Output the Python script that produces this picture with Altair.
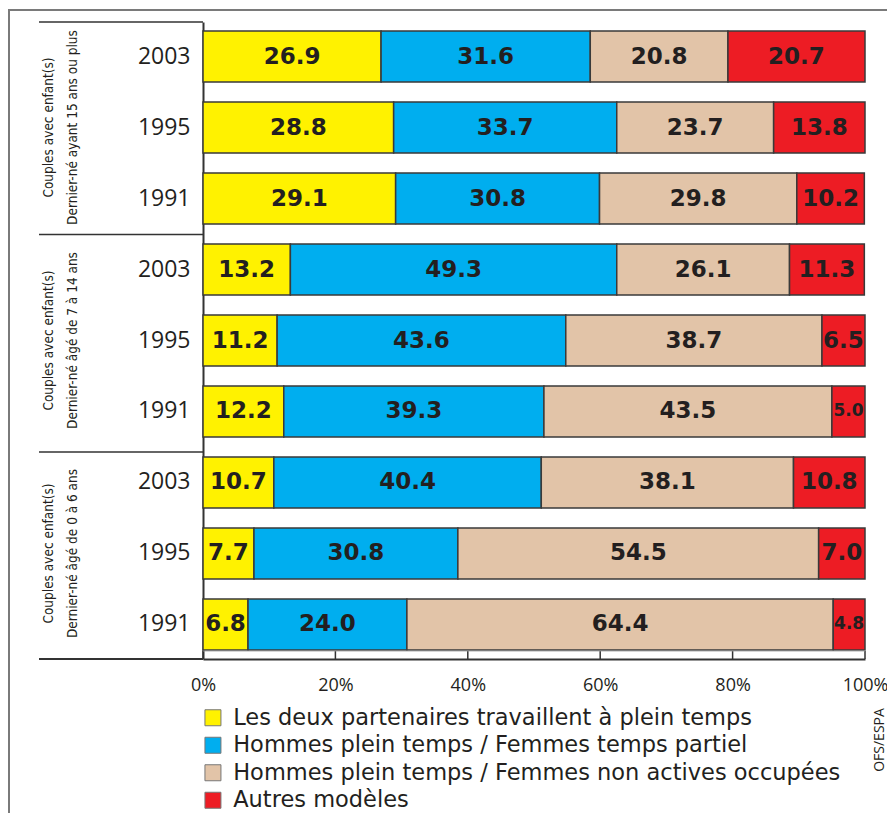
import altair as alt
import pandas as pd

# ---------------- data ----------------
categories = [
    "Les  deux partenaires travaillent à plein temps",
    "Hommes plein temps / Femmes temps partiel",
    "Hommes plein temps / Femmes non actives occupées",
    "Autres modèles",
]
colors = ["#FFF200", "#00AEEF", "#E2C4A8", "#ED1C24"]
groups = [
    "Couples avec enfant(s)\nDernier-né ayant 15 ans ou plus",
    "Couples avec enfant(s)\nDernier-né âgé de 7 à 14 ans",
    "Couples avec enfant(s)\nDernier-né âgé de 0 à 6 ans",
]
years = ["2003", "1995", "1991"]
values_15plus = [[26.9, 31.6, 20.8, 20.7], [28.8, 33.7, 23.7, 13.8], [29.1, 30.8, 29.8, 10.2]]
values_7_14 = [[13.2, 49.3, 26.1, 11.3], [11.2, 43.6, 38.7, 6.5], [12.2, 39.3, 43.5, 5.0]]
values_0_6 = [[10.7, 40.4, 38.1, 10.8], [7.7, 30.8, 54.5, 7.0], [6.8, 24.0, 64.4, 4.8]]
x_ticks = [0, 20, 40, 60, 80, 100]
source_label = "OFS/ESPA"

# ---------------- tables ----------------
all_values = [values_15plus, values_7_14, values_0_6]
rows, row_order, group_rows = [], [], []
for gi, gvals in enumerate(all_values):
    for yi, yr in enumerate(years):
        key = f"{gi}|{yr}"
        row_order.append(key)
        for ci, cat in enumerate(categories):
            rows.append({"row": key, "category": cat, "order": ci, "value": gvals[yi][ci]})
    group_rows.append({"row": f"{gi}|{years[1]}", "label": groups[gi]})
df = pd.DataFrame(rows)
df_groups = pd.DataFrame(group_rows)
df_ticks = pd.DataFrame({"tick": x_ticks})
one = pd.DataFrame({"a": [0]})

W, H = 662, 637
TXT = "#231f20"
LINE = "#333333"

y_enc = alt.Y(
    "row:N",
    sort=row_order,
    scale=alt.Scale(paddingInner=0.2817, paddingOuter=0.127),
    axis=alt.Axis(
        title=None, ticks=False, domain=True, domainColor=LINE, domainWidth=2,
        labelExpr="split(datum.label, '|')[1]", labelFontSize=23,
        labelFont="Open Sans", labelColor=TXT, labelPadding=13,
    ),
)
x_axis = alt.Axis(
    values=x_ticks, labelExpr="datum.value + '%'", ticks=False, grid=False,
    domain=True, domainColor=LINE, domainWidth=2, labelFontSize=18,
    labelFont="Open Sans", labelColor=TXT, labelPadding=17, title=None,
    labelFlush=False,
)
x_scale = alt.Scale(domain=[0, 100], nice=False)

base = alt.Chart(df).transform_stack(
    stack="value", groupby=["row"], as_=["x0", "x1"],
    sort=[alt.SortField("order", order="ascending")],
).transform_calculate(xm="(datum.x0 + datum.x1) / 2")

bars = base.mark_bar(stroke="#3a3a3a", strokeWidth=1.5).encode(
    y=y_enc,
    x=alt.X("x0:Q", scale=x_scale, axis=x_axis),
    x2="x1:Q",
    color=alt.Color(
        "category:N",
        scale=alt.Scale(domain=categories, range=colors),
        legend=alt.Legend(
            orient="none", legendX=-1.3, legendY=684.5, direction="vertical",
            title=None, symbolType="square", symbolSize=256,
            symbolStrokeColor="#777777", symbolStrokeWidth=1,
            labelFontSize=22.5, labelFont="DejaVu Sans", labelColor=TXT,
            labelLimit=800, labelOffset=9, rowPadding=4.5, padding=0,
        ),
    ),
)

labels = base.mark_text(font="DejaVu Sans", fontWeight="bold", color=TXT,
                        align="center", baseline="middle").encode(
    y=y_enc,
    x=alt.X("xm:Q", scale=x_scale, axis=x_axis),
    text=alt.Text("value:Q", format=".1f"),
    size=alt.condition("datum.value < 6", alt.value(17), alt.value(23)),
)

group_text = alt.Chart(df_groups).mark_text(
    angle=270, lineBreak="\n", align="center", baseline="middle",
    font="DejaVu Sans Condensed, Roboto Condensed, Roboto", fontSize=13.5,
    lineHeight=24, color=TXT,
).encode(y=y_enc, x=alt.value(-154), text="label:N")

ticks = alt.Chart(df_ticks).mark_rule(color=LINE, strokeWidth=1.5).encode(
    x=alt.X("tick:Q", scale=x_scale, axis=x_axis), y=alt.value(629), y2=alt.value(637)
)
strip_top = alt.Chart(one).mark_rule(color="#9a9a9a", strokeWidth=0.8).encode(
    x=alt.value(0), x2=alt.value(W), y=alt.value(629)
)

def hline(x1, x2, y, color=LINE, w=1.5):
    return alt.Chart(one).mark_rule(color=color, strokeWidth=w).encode(
        x=alt.value(x1), x2=alt.value(x2), y=alt.value(y)
    )

def vline(x, y1, y2, color=LINE, w=1.5):
    return alt.Chart(one).mark_rule(color=color, strokeWidth=w).encode(
        x=alt.value(x), y=alt.value(y1), y2=alt.value(y2)
    )

separators = [hline(-164, 0, 0), hline(-164, 0, 212.5), hline(-164, 0, 430), hline(-164, 0, H, w=2)]
frame = [hline(-195, 700, -12, color="#7a7a7a", w=2), vline(-194, -12, 820, color="#7a7a7a", w=2)]

src = alt.Chart(one).mark_text(
    angle=270, align="center", baseline="middle", font="Open Sans",
    fontSize=14, color=TXT, text=source_label,
).encode(x=alt.value(677), y=alt.value(718))

chart = alt.layer(
    bars, labels, group_text, ticks, strip_top, *separators, *frame, src
).properties(
    width=W, height=H, autosize="none",
    padding={"left": 195, "top": 14, "right": 22, "bottom": 154},
).configure_view(stroke=None)

chart.save("out.html", embed_options={"renderer": "svg", "actions": False})
